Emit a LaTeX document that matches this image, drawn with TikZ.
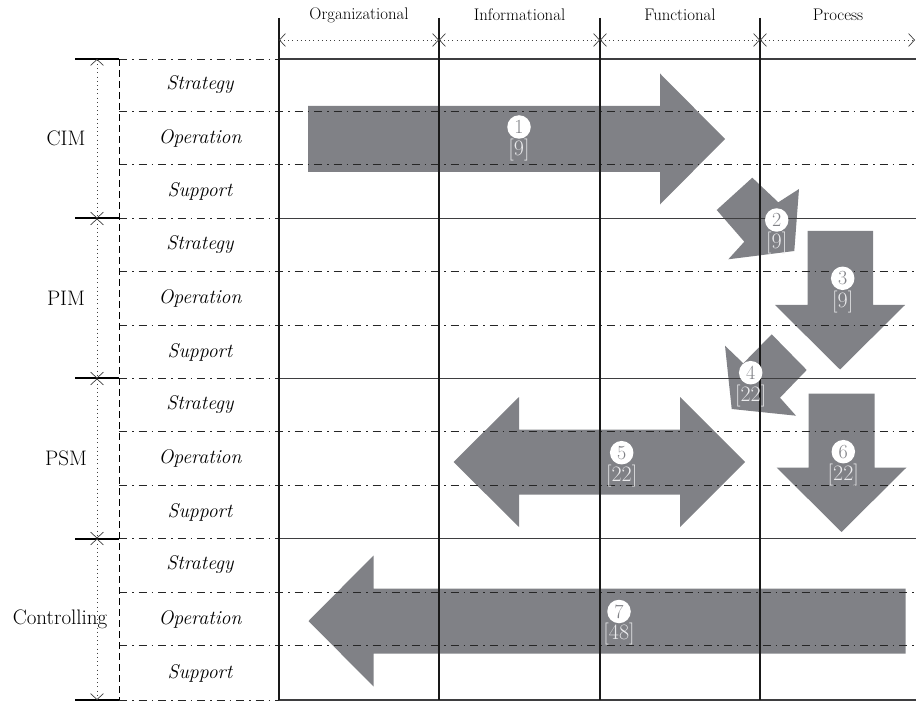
\documentclass[tikz,border=0pt]{standalone}
\usepackage{amssymb,amsmath}
\usepackage{tikz}
\usetikzlibrary{arrows.meta,positioning}
\definecolor{MonGris}{RGB}{128,129,134}
\definecolor{MonTrait}{RGB}{62,62,64}
\definecolor{MonClair}{RGB}{235,235,237}

\begin{document}
\begin{tikzpicture}[x=1pt, y=-1pt]

      \tikzstyle{Bloc}=[fill=MonGris, draw=none];
      \tikzstyle{Grille}=[draw=MonTrait, line width=1.1pt];
      \tikzstyle{Colonne}=[draw=black!90, line width=1.1pt];
      \tikzstyle{Borne}=[draw=black, line width=2pt];
      \tikzstyle{PointTiret}=[draw=black!85, line width=0.8pt, dash pattern=on 8pt off 5pt on 1.5pt off 5pt];
      \tikzstyle{Tiret}=[draw=black, line width=0.8pt, dash pattern=on 7pt off 4pt];
      \tikzstyle{Portee}=[draw=black!75, line width=0.7pt, dash pattern=on 1pt off 3.2pt,
        >={Straight Barb[length=6pt,width=13pt]}, <->];
      \tikzstyle{Entete}=[font=\fontsize{16.8}{19}\selectfont, inner sep=0pt];
      \tikzstyle{Vue}=[font=\fontsize{21}{24}\selectfont, inner sep=0pt];
      \tikzstyle{Niveau}=[font=\fontsize{19.8}{23}\selectfont\itshape, inner sep=0pt];
      \tikzstyle{Rond}=[circle, fill=white, draw=none, text=MonGris, minimum size=23.5pt,
        inner sep=0pt, font=\fontsize{20}{22}\selectfont];
      \tikzstyle{Ref}=[text=MonClair, inner sep=0pt, font=\fontsize{22}{24}\selectfont];

      \useasboundingbox (0,0) rectangle (916,703);

      % fleches grises
      \fill[Bloc] (308,106) -- (660,106) -- (660,73.5) -- (725,139) -- (660,204.5)
        -- (660,172) -- (308,172) -- cycle;
      \fill[Bloc] (716.7,210) -- (752.3,177.7) -- (778.3,202.3) -- (799,189)
        -- (794.3,251) -- (728.3,259.3) -- (744.3,241.7) -- cycle;
      \fill[Bloc] (807.5,231) -- (873,231) -- (873,305) -- (905,305) -- (840,369.5)
        -- (775,305) -- (807.5,305) -- cycle;
      \fill[Bloc] (771.7,334.3) -- (806.7,370) -- (780,397.7) -- (796,415.7)
        -- (731.7,409) -- (725,345.7) -- (743.3,363.3) -- cycle;
      \fill[Bloc] (453.5,462) -- (519,397) -- (519,429.5) -- (680,429.5) -- (680,397)
        -- (745,462) -- (680,527) -- (680,494.5) -- (519,494.5) -- (519,527) -- cycle;
      \fill[Bloc] (808.5,393.5) -- (874.5,393.5) -- (874.5,467.5) -- (906.5,467.5)
        -- (841.5,532) -- (776.5,467.5) -- (808.5,467.5) -- cycle;
      \fill[Bloc] (905.5,588.5) -- (373.5,588.5) -- (373.5,555.5) -- (308.5,621)
        -- (373.5,686.5) -- (373.5,653.5) -- (905.5,653.5) -- cycle;

      % lignes de la grille
      \draw[PointTiret] (119,59) -- (279,59);
      \draw[PointTiret] (119,111.5) -- (916,111.5);
      \draw[PointTiret] (119,164.5) -- (916,164.5);
      \draw[PointTiret] (119,218.5) -- (279,218.5);
      \draw[PointTiret] (119,271.5) -- (916,271.5);
      \draw[PointTiret] (119,325) -- (916,325);
      \draw[PointTiret] (119,378.5) -- (279,378.5);
      \draw[PointTiret] (119,431.5) -- (916,431.5);
      \draw[PointTiret] (119,485) -- (916,485);
      \draw[PointTiret] (119,538.5) -- (279,538.5);
      \draw[PointTiret] (119,592) -- (916,592);
      \draw[PointTiret] (119,645.5) -- (916,645.5);
      \draw[PointTiret] (119,700) -- (279,700);

      \draw[Grille] (279,59) -- (916,59);
      \draw[Grille] (279,218.5) -- (916,218.5);
      \draw[Grille] (279,378.5) -- (916,378.5);
      \draw[Grille] (279,538.5) -- (916,538.5);
      \draw[Grille] (279,700) -- (916,700);

      \draw[Colonne] (279,18) -- (279,700);
      \draw[Colonne] (439,18) -- (439,700);
      \draw[Colonne] (600,18) -- (600,700);
      \draw[Colonne] (760,18) -- (760,700);

      \draw[Tiret] (119,59) -- (119,700);

      \draw[Borne] (75,59) -- (119,59);
      \draw[Borne] (75,218.5) -- (119,218.5);
      \draw[Borne] (75,378.5) -- (119,378.5);
      \draw[Borne] (75,538.5) -- (119,538.5);
      \draw[Borne] (75,700) -- (119,700);

      % portees
      \coordinate (H0) at (279,40);
      \coordinate (H1) at (439,40);
      \coordinate (H2) at (600,40);
      \coordinate (H3) at (760,40);
      \coordinate (H4) at (915,40);
      \draw[Portee] (H0) -- (H1);
      \draw[Portee] (H1) -- (H2);
      \draw[Portee] (H2) -- (H3);
      \draw[Portee] (H3) -- (H4);

      \coordinate (V0) at (97,59);
      \coordinate (V1) at (97,218.5);
      \coordinate (V2) at (97,378.5);
      \coordinate (V3) at (97,538.5);
      \coordinate (V4) at (97,700);
      \draw[Portee] (V0) -- (V1);
      \draw[Portee] (V1) -- (V2);
      \draw[Portee] (V2) -- (V3);
      \draw[Portee] (V3) -- (V4);

      % textes
      \node[Entete](Org) at (359,15) {Organizational};
      \node[Entete](Inf) at (519.5,15) {Informational};
      \node[Entete](Fon) at (680,15) {Functional};
      \node[Entete](Pro) at (838,15) {Process};

      \node[Vue](Cim) at (66,138) {CIM};
      \node[Vue](Pim) at (66,298) {PIM};
      \node[Vue](Psm) at (66,458) {PSM};
      \node[Vue](Ctrl) at (60,619) {Controlling};

      \node[Niveau](S1) at (200,85) {Strategy};
      \node[Niveau](O1) at (200,138) {Operation};
      \node[Niveau](U1) at (200,191.5) {Support};
      \node[Niveau](S2) at (200,245) {Strategy};
      \node[Niveau](O2) at (200,298) {Operation};
      \node[Niveau](U2) at (200,352) {Support};
      \node[Niveau](S3) at (200,405) {Strategy};
      \node[Niveau](O3) at (200,458) {Operation};
      \node[Niveau](U3) at (200,512) {Support};
      \node[Niveau](S4) at (200,565) {Strategy};
      \node[Niveau](O4) at (200,619) {Operation};
      \node[Niveau](U4) at (200,673) {Support};

      % numeros
      \node[Rond](N1) at (519,127) {1};
      \node[Ref, below=0pt of N1](R1) {[9]};
      \node[Rond](N2) at (776.7,220) {2};
      \node[Ref, below=0pt of N2](R2) {[9]};
      \node[Rond](N3) at (842.7,278.3) {3};
      \node[Ref, below=0.5pt of N3](R3) {[9]};
      \node[Rond](N4) at (750.7,372.7) {4};
      \node[Ref, below=0pt of N4](R4) {[22]};
      \node[Rond](N5) at (621.7,452.7) {5};
      \node[Ref, below=0pt of N5](R5) {[22]};
      \node[Rond](N6) at (843.3,451.7) {6};
      \node[Ref, below=0pt of N6](R6) {[22]};
      \node[Rond](N7) at (619,611.5) {7};
      \node[Ref, below=-0.5pt of N7](R7) {[48]};

    \end{tikzpicture}
\end{document}
